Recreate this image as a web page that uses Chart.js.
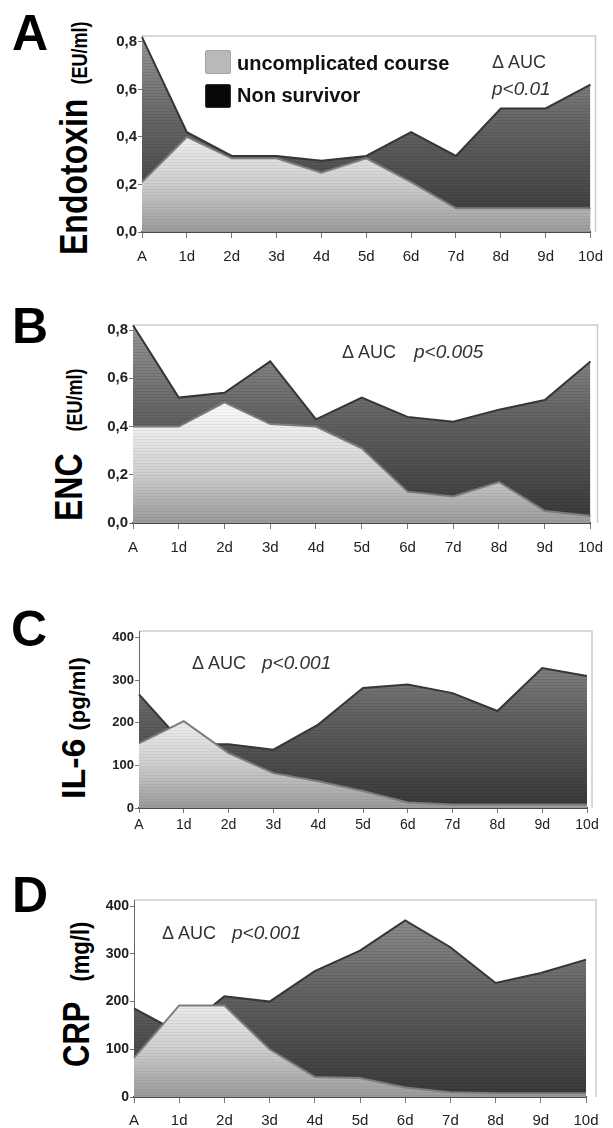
<!DOCTYPE html>
<html>
<head>
<meta charset="utf-8">
<script src="https://cdn.jsdelivr.net/npm/chart.js@4.4.1/dist/chart.umd.min.js"></script>
<style>
  body { margin: 0; background: #fff; width: 613px; height: 1128px; position: relative; overflow: hidden;
         font-family: "Liberation Sans", Arial, sans-serif; }
  canvas { position: absolute; left: 0; }
  .letter { position: absolute; font-weight: bold; font-size: 50px; line-height: 1; color: #000; }
  .ytitle { position: absolute; white-space: nowrap; font-weight: bold; line-height: 1; color: #000;
            transform-origin: 0 0; }
  .note { position: absolute; white-space: nowrap; line-height: 1; color: #333; font-size: 18px; }
  .note.p { font-style: italic; font-size: 19px; }
  .legend { position: absolute; white-space: nowrap; line-height: 1; font-weight: bold; font-size: 20px; color: #111; }
  .swatch { position: absolute; width: 24px; height: 22px; border-radius: 2px; }
</style>
</head>
<body>

<!-- panel letters -->
<div class="letter" style="left:12px;top:8px">A</div>
<div class="letter" style="left:12px;top:301px">B</div>
<div class="letter" style="left:11px;top:604px">C</div>
<div class="letter" style="left:12px;top:870px">D</div>

<!-- rotated axis titles -->
<div class="ytitle" style="left:55px;top:255px;font-size:32px;transform:rotate(-90deg) scale(1,1.2)">Endotoxin<span style="font-size:18px;margin-left:14px">(EU/ml)</span></div>
<div class="ytitle" style="left:50px;top:521px;font-size:32px;transform:rotate(-90deg) scale(1,1.2)">ENC<span style="font-size:18px;margin-left:22px">(EU/ml)</span></div>
<div class="ytitle" style="left:56px;top:799px;font-size:34px;transform:rotate(-90deg)">IL-6<span style="font-size:22px;margin-left:8px">(pg/ml)</span></div>
<div class="ytitle" style="left:58px;top:1067px;font-size:31px;transform:rotate(-90deg) scale(1,1.2)">CRP<span style="font-size:22px;margin-left:20px">(mg/l)</span></div>

<canvas id="chartA" width="613" height="238" style="top:24px"></canvas>
<canvas id="chartB" width="613" height="240" style="top:313px"></canvas>
<canvas id="chartC" width="613" height="219" style="top:619px"></canvas>
<canvas id="chartD" width="613" height="239" style="top:888px"></canvas>

<!-- legend (panel A) -->
<div class="swatch" style="left:205px;top:50px;background:#b9b9b9;border:1px solid #a5a5a5"></div>
<div class="swatch" style="left:205px;top:84px;background:#080808;border:1px solid #333"></div>
<div class="legend" style="left:237px;top:53px">uncomplicated course</div>
<div class="legend" style="left:237px;top:85px">Non survivor</div>

<!-- statistics notes -->
<div class="note" style="left:492px;top:53px">Δ AUC</div>
<div class="note p" style="left:492px;top:79px">p&lt;0.01</div>
<div class="note" style="left:342px;top:343px">Δ AUC</div>
<div class="note p" style="left:414px;top:342px">p&lt;0.005</div>
<div class="note" style="left:192px;top:654px">Δ AUC</div>
<div class="note p" style="left:262px;top:653px">p&lt;0.001</div>
<div class="note" style="left:162px;top:924px">Δ AUC</div>
<div class="note p" style="left:232px;top:923px">p&lt;0.001</div>

<script>
// time points
const days = ['A', '1d', '2d', '3d', '4d', '5d', '6d', '7d', '8d', '9d', '10d'];

// A: Endotoxin (EU/ml)
const endotoxinUncomplicated = [0.21, 0.40, 0.31, 0.31, 0.25, 0.31, 0.21, 0.10, 0.10, 0.10, 0.10];
const endotoxinNonSurvivor   = [0.82, 0.42, 0.32, 0.32, 0.30, 0.32, 0.42, 0.32, 0.52, 0.52, 0.62];

// B: ENC (EU/ml)
const encUncomplicated = [0.40, 0.40, 0.50, 0.41, 0.40, 0.31, 0.13, 0.11, 0.17, 0.05, 0.03];
const encNonSurvivor   = [0.82, 0.52, 0.54, 0.67, 0.43, 0.52, 0.44, 0.42, 0.47, 0.51, 0.67];

// C: IL-6 (pg/ml)
const il6Uncomplicated = [152, 204, 129, 82, 63, 40, 13, 8, 8, 8, 8];
const il6NonSurvivor   = [267, 150, 150, 137, 196, 282, 290, 270, 228, 329, 310];

// D: CRP (mg/l)
const crpUncomplicated = [82, 192, 192, 100, 42, 40, 20, 10, 8, 8, 8];
const crpNonSurvivor   = [186, 135, 211, 200, 264, 307, 370, 314, 239, 260, 288];

// y tick labels
const euTicks = [0, 0.2, 0.4, 0.6, 0.8];
const concTicks = [0, 100, 200, 300, 400];

const NARROW = '"Liberation Sans Narrow", "Arial Narrow", "Liberation Sans", Arial, sans-serif';

// striped gradient fill, like the old 3D area charts
function stripeFill(chart, stops, alpha) {
  const area = chart.chartArea;
  if (!area) return '#888';
  const c = document.createElement('canvas');
  c.width = 8;
  c.height = chart.height;
  const g = c.getContext('2d');
  const grad = g.createLinearGradient(0, area.top, 0, area.bottom);
  stops.forEach(s => grad.addColorStop(s[0], s[1]));
  g.fillStyle = grad;
  g.fillRect(0, 0, 8, c.height);
  for (let y = Math.round(area.top); y < area.bottom; y += 3) {
    g.fillStyle = 'rgba(0,0,0,' + alpha + ')';
    g.fillRect(0, y, 8, 1);
  }
  return chart.ctx.createPattern(c, 'repeat');
}

// light grey box around the plot (top + right wall)
const framePlugin = {
  id: 'frame',
  beforeDraw(chart, args, opts) {
    const { ctx, chartArea: a } = chart;
    ctx.save();
    ctx.strokeStyle = '#cdcdcd';
    ctx.lineWidth = 1.5;
    ctx.beginPath();
    ctx.moveTo(a.left, a.top);
    ctx.lineTo(a.right + opts.depth, a.top);
    ctx.lineTo(a.right + opts.depth, a.bottom);
    ctx.stroke();
    ctx.restore();
  }
};

const panels = [
  { id: 'chartA', padL: 102, padR: 11, max: 0.825, ticks: euTicks, dec: 1,
    light: endotoxinUncomplicated, dark: endotoxinNonSurvivor,
    xFont: 15, yFont: 15, tick: 6, xPad: 10, depth: 5 },
  { id: 'chartB', padL: 93, padR: 21, max: 0.821, ticks: euTicks, dec: 1,
    light: encUncomplicated, dark: encNonSurvivor,
    xFont: 15, yFont: 15, tick: 6, xPad: 10, depth: 7 },
  { id: 'chartC', padL: 99, padR: 26, max: 416, ticks: concTicks, dec: 0,
    light: il6Uncomplicated, dark: il6NonSurvivor,
    xFont: 14, yFont: 13, tick: 5, xPad: 4, depth: 5 },
  { id: 'chartD', padL: 94, padR: 27, max: 413, ticks: concTicks, dec: 0,
    light: crpUncomplicated, dark: crpNonSurvivor,
    xFont: 15, yFont: 14, tick: 6, xPad: 9, depth: 10 }
];

panels.forEach(p => {
  new Chart(document.getElementById(p.id), {
    type: 'line',
    data: {
      labels: days,
      datasets: [
        {
          label: 'uncomplicated course',
          data: p.light,
          fill: 'origin',
          borderColor: '#7c7c7c',
          borderWidth: 2,
          backgroundColor: ctx => stripeFill(ctx.chart,
            [[0, '#ffffff'], [0.45, '#f6f6f6'], [0.75, '#cfcfcf'], [1, '#9a9a9a']], 0.05),
          pointRadius: 0,
          tension: 0
        },
        {
          label: 'Non survivor',
          data: p.dark,
          fill: 'origin',
          borderColor: '#363636',
          borderWidth: 2,
          backgroundColor: ctx => stripeFill(ctx.chart,
            [[0, '#979797'], [0.45, '#646464'], [1, '#383838']], 0.09),
          pointRadius: 0,
          tension: 0
        }
      ]
    },
    options: {
      responsive: false,
      animation: false,
      events: [],
      layout: { padding: { left: p.padL, right: p.padR, top: 12, bottom: 0 } },
      plugins: {
        legend: { display: false },
        tooltip: { enabled: false },
        frame: { depth: p.depth }
      },
      scales: {
        x: {
          offset: false,
          afterFit(scale) { scale.height = 30; },
          grid: { drawOnChartArea: false, drawTicks: true, tickLength: p.tick, color: '#777' },
          border: { display: true, color: '#4a4a4a', width: 2 },
          ticks: { color: '#222', padding: p.xPad, maxRotation: 0, autoSkip: false,
                   font: { family: NARROW, size: p.xFont } }
        },
        y: {
          min: 0,
          max: p.max,
          afterFit(scale) { scale.width = 40; },
          afterBuildTicks(scale) { scale.ticks = p.ticks.map(v => ({ value: v })); },
          grid: { drawOnChartArea: false, drawTicks: true, tickLength: 4, color: '#777' },
          border: { display: true, color: '#666', width: 1 },
          ticks: {
            color: '#222', padding: 1,
            font: { family: NARROW, size: p.yFont, weight: 'bold' },
            callback: v => p.dec ? Number(v).toFixed(p.dec).replace('.', ',') : String(v)
          }
        }
      }
    },
    plugins: [framePlugin]
  });
});
</script>
</body>
</html>
